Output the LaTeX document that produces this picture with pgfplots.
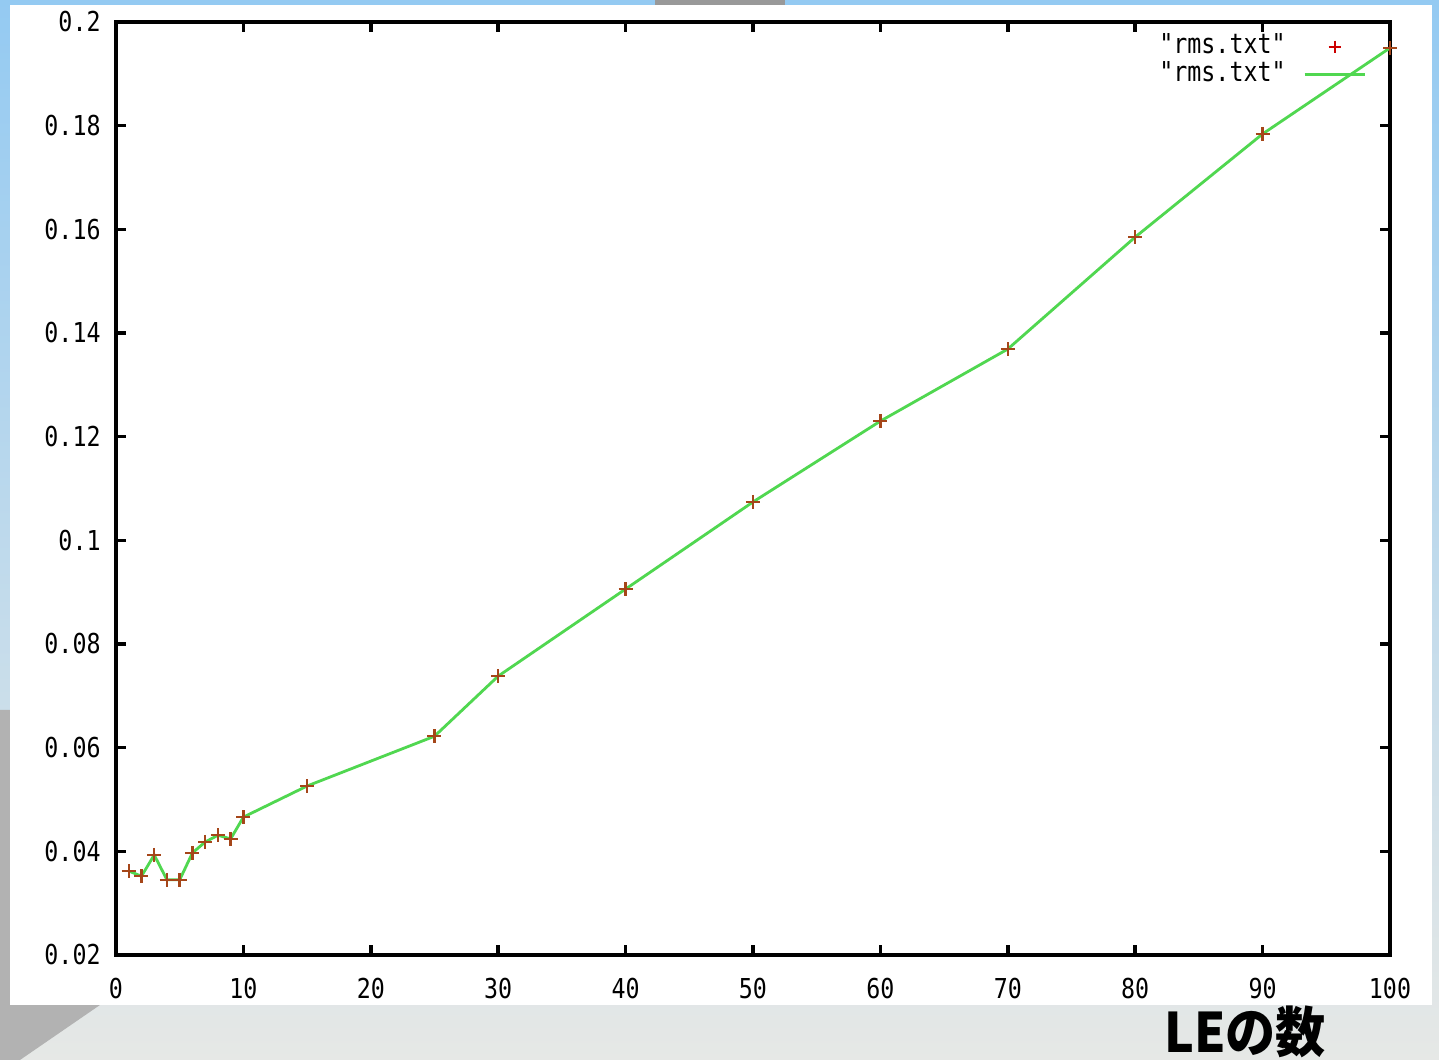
\documentclass[border=0pt]{standalone}
\usepackage{pgfplots}
\pgfplotsset{compat=1.18}
\usepackage{fontspec}
\newfontfamily\gp[FakeStretch=0.85]{DejaVu Sans Mono}
\newfontfamily\cjk[FakeStretch=0.92]{Noto Sans CJK JP}

\definecolor{bgblue}{RGB}{148,202,242}
\definecolor{bgmid}{RGB}{226,236,242}
\definecolor{bggray}{RGB}{230,232,230}
\definecolor{gpgreen}{RGB}{80,215,80}
\definecolor{gpred}{RGB}{165,70,25}

\begin{document}
\begin{tikzpicture}
\useasboundingbox (0,0) rectangle (143.9mm,106mm);
% slide background (1 px = 0.1 mm)
\begin{scope}[x=0.1mm,y=0.1mm]
\shade[top color=bgblue, middle color=bgmid, bottom color=bggray] (0,0) rectangle (1439,1060);
\fill[black!30] (0,0) -- (0,350) -- (10,350) -- (10,55) -- (100,55) -- (20,0) -- cycle;
\fill[black!40] (655,1055) rectangle (785,1060);
\fill[white] (10,55) rectangle (1432,1055);
\end{scope}

\begin{axis}[
    at={(11.6mm,10.5mm)}, anchor=south west,
    width=127.4mm, height=93.3mm, scale only axis,
    xmin=0, xmax=100, ymin=0.02, ymax=0.2,
    xtick={0,10,20,30,40,50,60,70,80,90,100},
    ytick={0.02,0.04,0.06,0.08,0.1,0.12,0.14,0.16,0.18,0.2},
    tick align=inside, major tick length=1mm,
    axis line style={line width=1.2pt},
    every tick/.style={black, line width=1pt},
    /pgf/number format/assume math mode=true,
    ticklabel style={font=\gp\fontsize{7.8}{9}\selectfont},
    xticklabel style={yshift=-1.1mm},
    yticklabel style={xshift=-0.3mm},
    yticklabel={\pgfmathprintnumber[fixed,precision=2]{\tick}},
    legend plot pos=right,
    legend cell align=right,
    legend style={at={(0.99,1.003)}, anchor=north east, draw=none, fill=none,
        font=\gp\fontsize{7.8}{9}\selectfont, row sep=-3.3pt,
        nodes={inner xsep=5pt}},
]
\addplot[gpgreen, line width=0.8pt, forget plot] coordinates {
(1,0.0362) (2,0.0352) (3,0.0393) (4,0.0345) (5,0.0345) (6,0.0397)
(7,0.0418) (8,0.0431) (9,0.0424) (10,0.0466) (15,0.0526) (25,0.0622)
(30,0.0738) (40,0.0906) (50,0.1074) (60,0.1230) (70,0.1369) (80,0.1585)
(90,0.1784) (100,0.1950)
};
\addplot[gpred, only marks, mark=+, mark size=0.7mm, line width=0.7pt, forget plot] coordinates {
(1,0.0362) (2,0.0352) (3,0.0393) (4,0.0345) (5,0.0345) (6,0.0397)
(7,0.0418) (8,0.0431) (9,0.0424) (10,0.0466) (15,0.0526) (25,0.0622)
(30,0.0738) (40,0.0906) (50,0.1074) (60,0.1230) (70,0.1369) (80,0.1585)
(90,0.1784) (100,0.1950)
};
\addlegendimage{red!80!black, only marks, mark=+, mark size=0.6mm, line width=0.6pt}
\addlegendentry{"rms.txt"}
\addlegendimage{gpgreen, line width=0.8pt}
\addlegendentry{"rms.txt"}
\end{axis}

\node[font=\cjk\bfseries\fontsize{15.5}{16}\selectfont, anchor=base] at (124.5mm,0.7mm) {LEの数};
\end{tikzpicture}
\end{document}
